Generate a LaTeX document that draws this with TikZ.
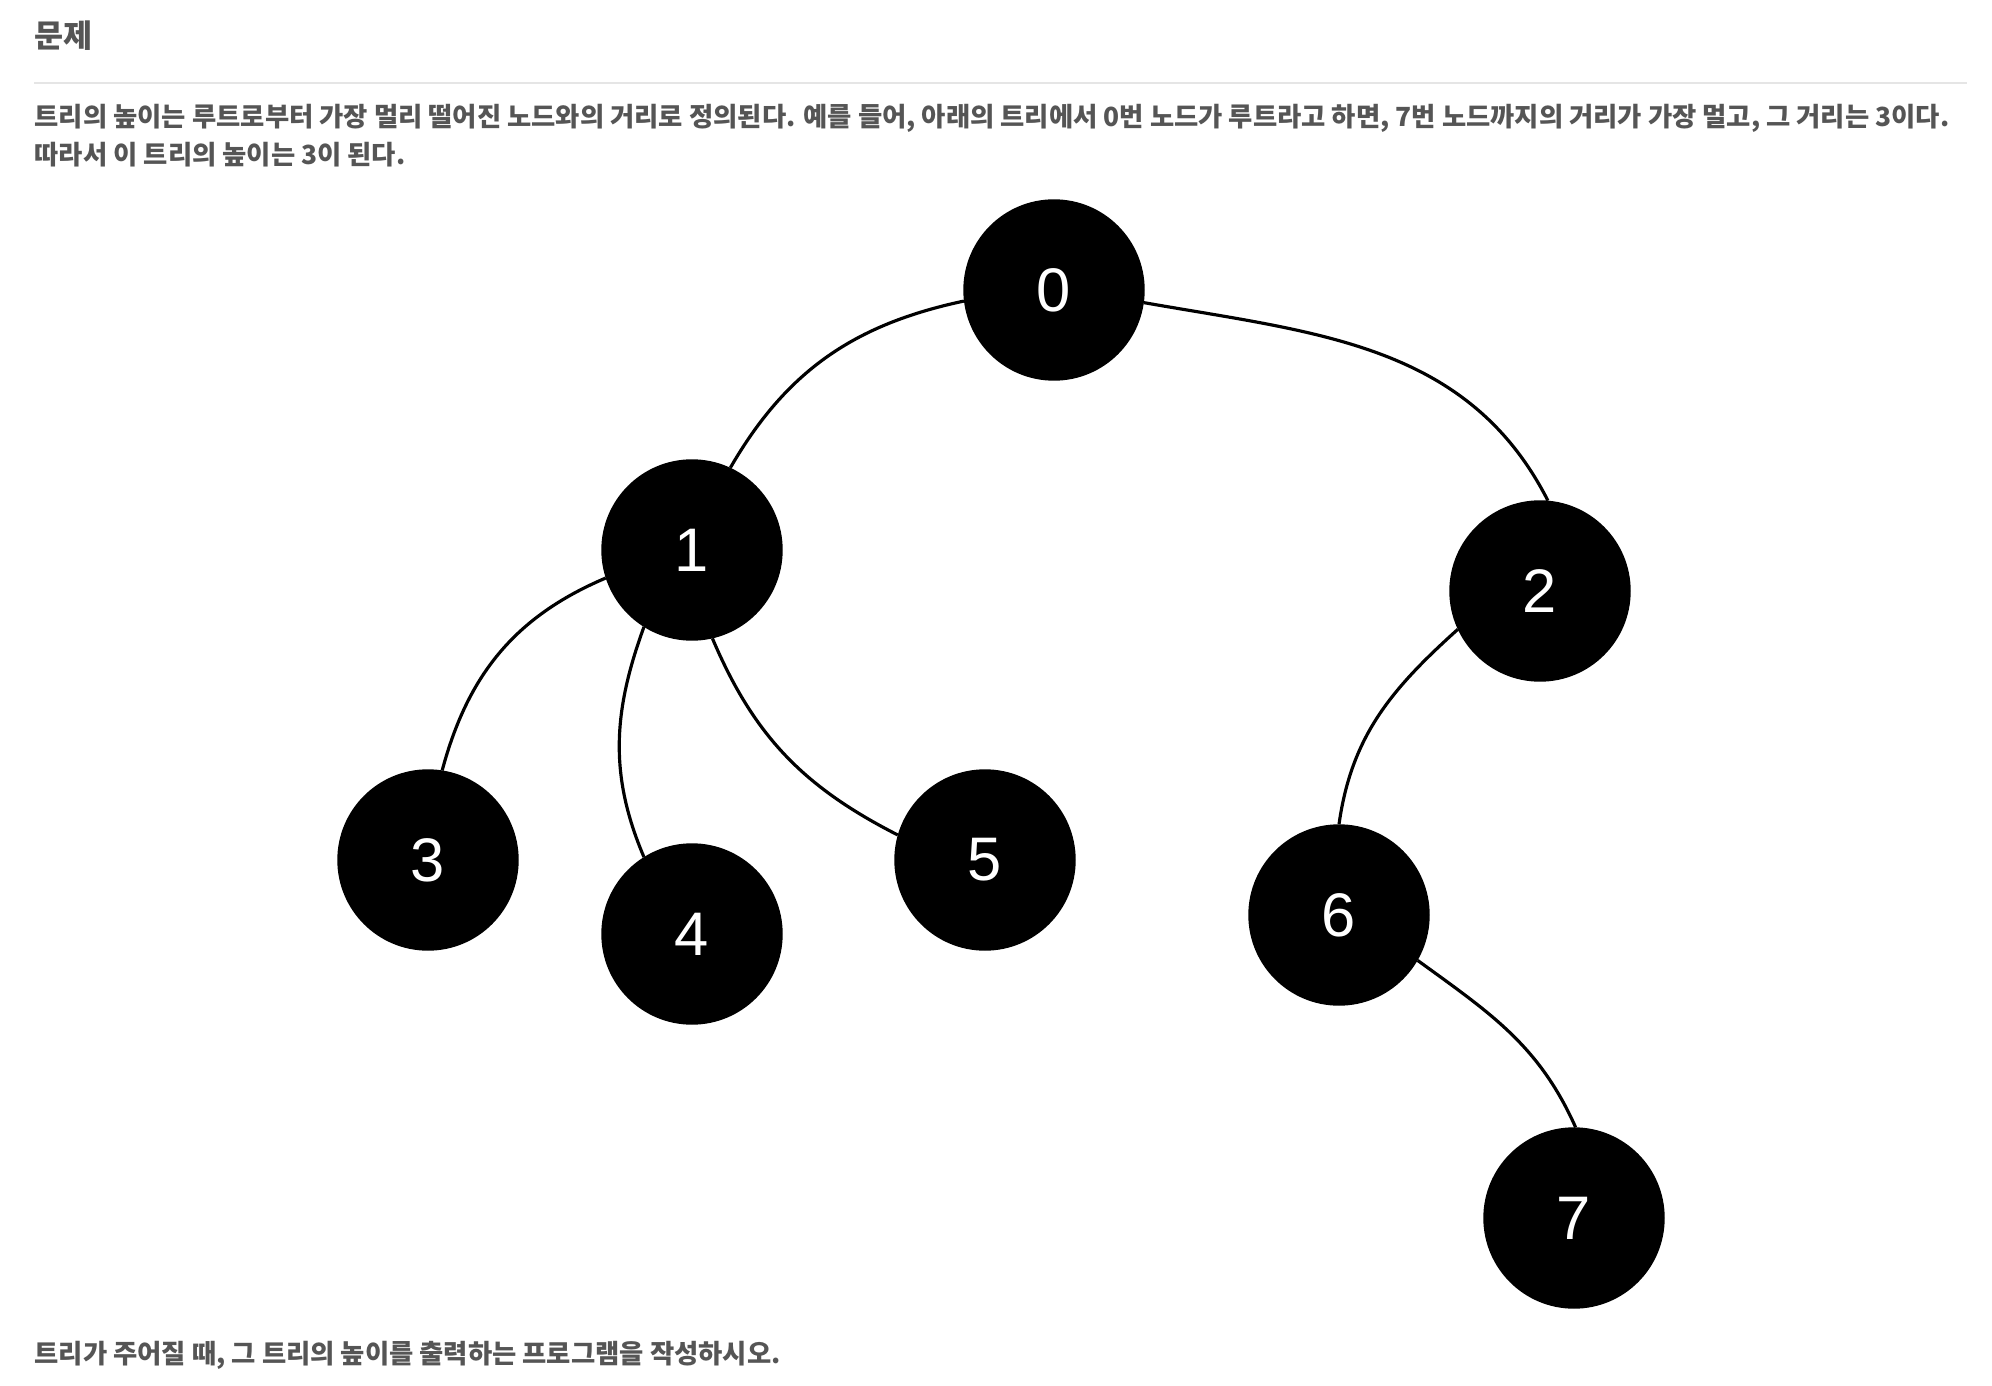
\documentclass[tikz,border=0pt]{standalone}
\usepackage{fontspec}
\setmainfont{Liberation Sans}
\newfontfamily\kor{Noto Sans CJK KR}
\definecolor{txtgray}{RGB}{85,85,85}
\definecolor{rulegray}{RGB}{229,229,229}
\tikzset{
  vtx/.style={circle, fill=black, draw=black, minimum size=1.80cm, inner sep=0pt,
    text=white, font=\fontsize{17.5pt}{17.5pt}\selectfont},
  edge/.style={line width=0.9pt, black},
  para/.style={anchor=base west, inner sep=0pt, text=txtgray,
    font=\kor\bfseries\fontsize{7.5pt}{9pt}\selectfont}
}
\begin{document}
\begin{tikzpicture}

\useasboundingbox (0,0) rectangle (19.92,-13.86);

\node[anchor=base west, inner sep=0pt, text=txtgray, font=\kor\bfseries\fontsize{9pt}{11pt}\selectfont] (title) at (0.34,-0.48) {문제};
\draw[rulegray, line width=0.02cm] (0.34,-0.83) -- (19.67,-0.83);

\node[para] (line1) at (0.34,-1.27) {트리의 높이는 루트로부터 가장 멀리 떨어진 노드와의 거리로 정의된다. 예를 들어, 아래의 트리에서 0번 노드가 루트라고 하면, 7번 노드까지의 거리가 가장 멀고, 그 거리는 3이다.};
\node[para] (line2) at (0.34,-1.65) {따라서 이 트리의 높이는 3이 된다.};
\node[para] (line3) at (0.34,-13.63) {트리가 주어질 때, 그 트리의 높이를 출력하는 프로그램을 작성하시오.};

\foreach \n/\x/\y in {0/10.54/-2.90, 1/6.92/-5.50, 2/15.40/-5.91, 3/4.28/-8.60,
                      4/6.92/-9.34, 5/9.85/-8.60, 6/13.39/-9.15, 7/15.74/-12.18} {
    \node[vtx] (n\n) at (\x,\y) {\n};
}

\draw[edge] (n0.187) to[out=192, in=60] (n1.65);
\draw[edge] (n0.352) to[out=-10, in=117] (n2.85);
\draw[edge] (n1.198) to[out=203, in=75] (n3.81);
\draw[edge] (n1.238) to[out=250, in=113] (n4.122);
\draw[edge] (n1.283) to[out=293, in=153] (n5.164);
\draw[edge] (n2.205) to[out=222, in=82] (n6.90);
\draw[edge] (n6.330) to[out=-36, in=114] (n7.89);

\end{tikzpicture}
\end{document}
